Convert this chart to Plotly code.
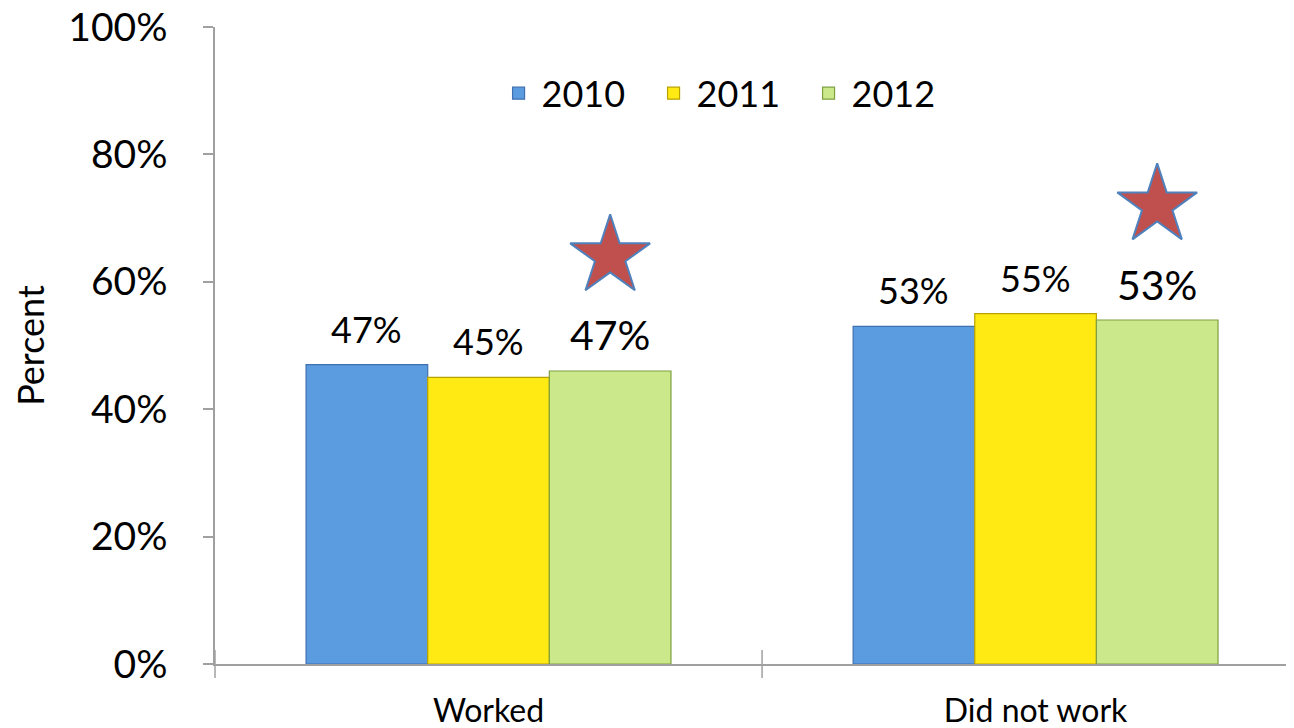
import plotly.graph_objects as go

# data
categories = ["Worked", "Did not work"]
years = ["2010", "2011", "2012"]
values_2010 = [47, 53]
values_2011 = [45, 55]
values_2012 = [46, 54]
labels_2010 = ["47%", "53%"]
labels_2011 = ["45%", "55%"]
labels_2012 = ["47%", "53%"]
star_values = [64, 72]  # stars drawn over the 2012 bars
y_ticks = [0, 20, 40, 60, 80, 100]
y_ticktext = ["0%", "20%", "40%", "60%", "80%", "100%"]

series = [
    ("2010", values_2010, labels_2010, "#5B9BDF", "#3F70B0", 36),
    ("2011", values_2011, labels_2011, "#FFEA14", "#B9A200", 36),
    ("2012", values_2012, labels_2012, "#CBE98A", "#7FA040", 41),
]

font_name = "Lato"
x_pos = list(range(len(categories)))
bargap = 0.333
bar_w = (1 - bargap) / len(series)

fig = go.Figure()
annotations = []
for k, (name, vals, labs, col, edge, lsize) in enumerate(series):
    fig.add_trace(go.Bar(
        x=x_pos, y=vals, name=name,
        marker=dict(color=col, line=dict(color=edge, width=1.2)),
    ))
    offset = (k - 1) * bar_w
    for i, v in enumerate(vals):
        annotations.append(dict(
            x=x_pos[i] + offset, y=v, text=labs[i], showarrow=False,
            yanchor="middle", yshift=36,
            font=dict(family=font_name, size=lsize, color="black"),
        ))

# red stars marking the 2012 bars
fig.add_trace(go.Scatter(
    x=[p + bar_w for p in x_pos], y=star_values, mode="markers",
    showlegend=False, hoverinfo="skip",
    marker=dict(symbol="star", size=60, color="#C0504D",
                line=dict(color="#4F81BD", width=2)),
))

# category boundary ticks on the x axis
fig.add_trace(go.Scatter(
    x=[-0.5, 0.5], y=[0, 0], mode="markers", showlegend=False,
    hoverinfo="skip", cliponaxis=False,
    marker=dict(symbol="line-ns", size=20, line=dict(color="#A0A0A0", width=1.5)),
))

fig.update_layout(
    width=1294, height=728,
    margin=dict(l=207, r=0, t=19, b=72),
    paper_bgcolor="white", plot_bgcolor="white",
    barmode="group", bargap=bargap, bargroupgap=0,
    font=dict(family=font_name, color="black"),
    annotations=annotations,
    legend=dict(orientation="h", x=0.472, xanchor="center",
                y=0.896, yanchor="middle",
                font=dict(size=36), bgcolor="rgba(0,0,0,0)",
                itemwidth=36, entrywidth=104, tracegroupgap=0),
    xaxis=dict(
        range=[-0.5, 1.487], tickvals=x_pos, ticktext=categories,
        showline=True, linecolor="#A0A0A0", linewidth=1.5,
        showgrid=False, zeroline=False, automargin=False,
        ticks="", tickfont=dict(size=32), ticklabelstandoff=18,
        ticklabeloverflow="allow",
    ),
    yaxis=dict(
        range=[0, 100], tickvals=y_ticks, ticktext=y_ticktext,
        showline=True, linecolor="#A0A0A0", linewidth=1.5,
        ticks="outside", ticklen=10, tickcolor="#A0A0A0", tickwidth=1.5,
        showgrid=False, zeroline=False, automargin=False,
        tickfont=dict(size=39), ticklabelstandoff=28,
        ticklabeloverflow="allow",
        title=dict(text="Percent", font=dict(size=36), standoff=26),
    ),
)

fig.write_html("out.html")
